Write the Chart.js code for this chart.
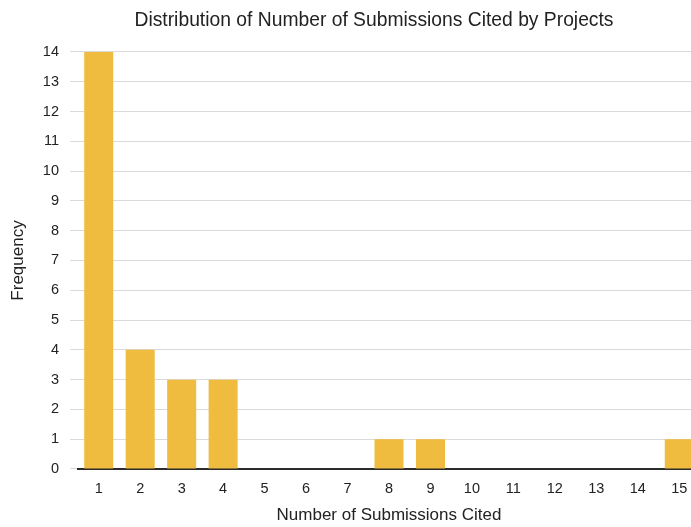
<!DOCTYPE html>
<html>
<head>
<meta charset="utf-8">
<script src="https://cdn.jsdelivr.net/npm/chart.js@4"></script>
<style>
  html, body { margin: 0; padding: 0; background: #fff; overflow: hidden; }
  #wrap { position: relative; width: 700px; height: 527px; }
</style>
</head>
<body>
<div id="wrap"><canvas id="chart" width="700" height="527"></canvas></div>
<script>
// Number of submissions a project cites, and how many projects cite that many
const citedCounts = ['1', '2', '3', '4', '5', '6', '7', '8', '9', '10', '11', '12', '13', '14', '15'];
const frequencies = [14, 4, 3, 3, 0, 0, 0, 1, 1, 0, 0, 0, 0, 0, 1];

const chartTitle = 'Distribution of Number of Submissions Cited by Projects';
const xAxisTitle = 'Number of Submissions Cited';
const yAxisTitle = 'Frequency';

const FONT = "'Liberation Sans', Arial, Helvetica, sans-serif";
const TEXT = '#222222';

// Nudge the title so it sits centred over the plotting region
const titleShift = {
  id: 'titleShift',
  afterLayout(chart) {
    const t = chart.titleBlock;
    if (t) { t.left += 48; }
  }
};

new Chart(document.getElementById('chart'), {
  type: 'bar',
  data: {
    labels: citedCounts,
    datasets: [{
      data: frequencies,
      backgroundColor: '#F0BC40',
      borderWidth: 0,
      barPercentage: 0.7,
      categoryPercentage: 1.0
    }]
  },
  plugins: [titleShift],
  options: {
    responsive: false,
    animation: false,
    layout: { padding: 0 },
    plugins: {
      legend: { display: false },
      tooltip: { enabled: false },
      title: {
        display: true,
        text: chartTitle,
        color: TEXT,
        font: { family: FONT, size: 19.3, weight: 'normal' },
        padding: { top: 9.5, bottom: 19.3 }
      }
    },
    scales: {
      x: {
        grid: { display: true, drawOnChartArea: false, color: 'rgba(0,0,0,0)', tickLength: 8 },
        border: { display: true, color: '#2b2b2b', width: 2 },
        ticks: { color: TEXT, font: { family: FONT, size: 14.5 }, padding: 3, maxRotation: 0, autoSkip: false },
        title: {
          display: true,
          text: xAxisTitle,
          color: TEXT,
          font: { family: FONT, size: 17 },
          padding: { top: 0, bottom: 1 }
        },
        afterFit(scale) { scale.height = 58; }
      },
      y: {
        min: 0,
        max: 14,
        grid: { color: '#dadada', lineWidth: 1, tickLength: 8 },
        border: { display: false },
        ticks: { stepSize: 1, color: TEXT, font: { family: FONT, size: 14.5 }, padding: 11 },
        title: {
          display: true,
          text: yAxisTitle,
          color: TEXT,
          font: { family: FONT, size: 17 },
          padding: { top: 8, bottom: 0 }
        },
        afterFit(scale) { scale.width = 78; }
      }
    }
  }
});
</script>
</body>
</html>
